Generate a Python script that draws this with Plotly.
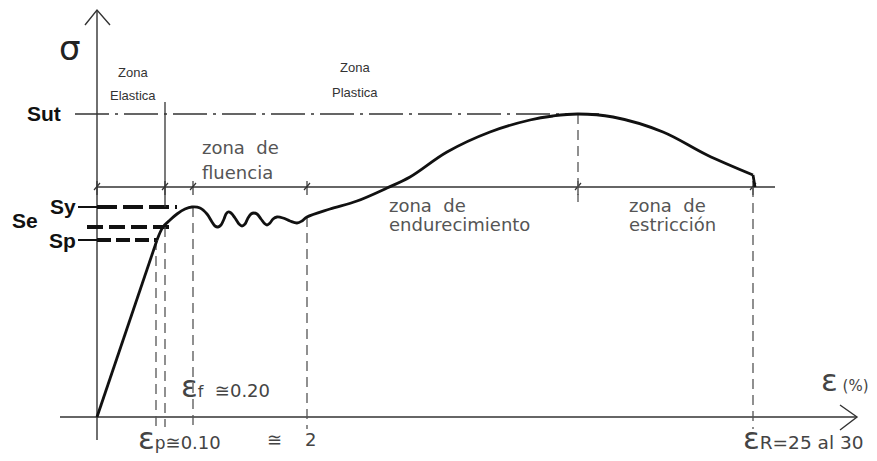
import plotly.graph_objects as go

# ---------------- data (schematic strain / stress units) ----------------
# elastic branch
elastic_strain = [0, 60]
elastic_stress = [0, 177]

# plastic branch (yield plateau with oscillations, hardening, necking)
plastic_strain = [60, 66, 73, 80, 88, 95, 103, 110, 115, 118, 121, 124, 127, 129, 131,
                  134, 138, 142, 145, 148, 151, 154, 157, 160, 164, 167, 170, 173, 176,
                  180, 186, 193, 200, 205, 210, 233, 260, 290, 313, 350, 393, 433, 456,
                  481, 516, 566, 610, 656]
plastic_stress = [177, 190, 197, 203, 208, 210, 209, 203, 195, 191, 190, 192, 198, 203, 205,
                  204, 199, 193, 191, 193, 199, 203, 204, 203, 198, 194, 192, 194, 198,
                  200, 199, 196, 194, 196, 200, 208, 216, 229, 240, 265, 285, 297, 301,
                  303, 300, 285, 262, 242]
# final rupture drop
rupture_strain = [656, 658]
rupture_stress = [242, 230]

# reference stress levels
S_ut = 303
S_y = 210
S_e = 190
S_p = 177
zone_level = 230

# characteristic strains
eps_p = 59
eps_e = 68
eps_f = 96
eps_2 = 210
eps_u = 481
eps_R = 656
zone_bounds = [0, eps_e, eps_f, eps_2, eps_u, eps_R]

# axis extents
x_axis_min, x_axis_max = -37, 760
y_axis_min, y_axis_max = -23, 407

BLACK = "#111111"
GRAY = "#555555"
TECH = "DejaVu Sans"

fig = go.Figure()


def seg(xs, ys, width=1.5, color=BLACK, dash="solid", shape="linear"):
    fig.add_trace(go.Scatter(x=xs, y=ys, mode="lines",
                             line=dict(color=color, width=width, dash=dash, shape=shape),
                             hoverinfo="skip", showlegend=False))


# axes with arrows
seg([x_axis_min, x_axis_max], [0, 0], 1.6, "#333333")
seg([x_axis_max - 17, x_axis_max, x_axis_max - 17], [12, 0, -13], 1.4, "#333333")
seg([0, 0], [y_axis_min, y_axis_max], 1.4, "#333333")
seg([-12, 0, 13], [y_axis_max - 15, y_axis_max, y_axis_max - 15], 1.4, "#333333")

# zone line with ticks
seg([0, 678], [zone_level, zone_level], 1.4, "#333333")
for zb in zone_bounds:
    seg([zb, zb], [zone_level - 8, zone_level + 6], 1.2, "#333333")
    seg([zb - 3, zb + 3], [zone_level - 3, zone_level + 4], 1.2, "#333333")

# Sut dash-dot
seg([-22, 503], [S_ut, S_ut], 1.3, "#333333", "34px,6px,3px,6px")

# Sy, Se, Sp dashed references
seg([-19, 0], [S_y, S_y], 2, BLACK)
seg([0, 80], [S_y, S_y], 4, BLACK, "20px,6px")
seg([-10, 78], [S_e, S_e], 4, BLACK, "16px,6px")
seg([-19, 0], [S_p, S_p], 2, BLACK)
seg([0, 60], [S_p, S_p], 4, BLACK, "14px,5px")

# vertical markers
seg([eps_e, eps_e], [S_y, 315], 1.3, "#333333")
seg([eps_p, eps_p], [S_p, -10], 1.3, "#555555", "10px,6px")
seg([eps_e, eps_e], [S_e, -10], 1.3, "#555555", "10px,6px")
seg([eps_f, eps_f], [S_y, -10], 1.3, "#555555", "10px,6px")
seg([eps_2, eps_2], [200, -12], 1.3, "#555555", "10px,6px")
seg([eps_u, eps_u], [S_ut, 215], 1.3, "#555555", "10px,6px")
seg([eps_R, eps_R], [zone_level, -12], 1.3, "#555555", "10px,6px")

# stress-strain curve
seg(elastic_strain, elastic_stress, 2.8, BLACK)
seg(plastic_strain, plastic_stress, 2.8, BLACK, shape="spline")
seg(rupture_strain, rupture_stress, 2.8, BLACK)

ann = []


def txt(x, y, t, size=17, color=GRAY, xanchor="left", family=TECH):
    ann.append(dict(x=x, y=y, xref="x", yref="y", text=t, showarrow=False,
                    xanchor=xanchor, yanchor="middle",
                    font=dict(size=size, color=color, family=family)))


txt(-27, 369, "σ", 34, "#222222", "center", "DejaVu Sans")
txt(-34, 304, "<b>Sut</b>", 21, BLACK, "right", "Liberation Sans")
txt(-19, 211, "<b>Sy</b>", 21, BLACK, "right", "Liberation Sans")
txt(-72, 197, "<b>Se</b>", 21, BLACK, "center", "Liberation Sans")
txt(-19, 177, "<b>Sp</b>", 21, BLACK, "right", "Liberation Sans")

txt(36, 345, "Zona", 13, "#333333", "center", "Liberation Sans")
txt(36, 322, "Elastica", 13, "#333333", "center", "Liberation Sans")
txt(258, 350, "Zona", 13, "#333333", "center", "Liberation Sans")
txt(258, 325, "Plastica", 13, "#333333", "center", "Liberation Sans")

txt(103, 270, "zona  de", 18, GRAY)
txt(103, 245, "fluencia", 18, GRAY)
txt(290, 212, "zona  de", 18, GRAY)
txt(290, 193, "endurecimiento", 18, GRAY)
txt(530, 212, "zona  de", 18, GRAY)
txt(530, 193, "estricción", 18, GRAY)

eps_big = '<span style="font-size:31px">ε</span>'
txt(82, 31, eps_big + '<span style="font-size:16px">f</span>  ≅0.20', 18, "#444444")
txt(39, -21, eps_big + '<span style="font-size:17px">p</span>≅0.10', 18, "#444444")
txt(168, -22, "≅    2", 18, "#444444")
txt(644, -21, eps_big + 'R=25 al 30', 18.5, "#444444")
txt(722, 37, eps_big + '<span style="font-size:15px"> (%)</span>', 15, "#444444")

# the page body has an 8 px margin: figure is sized to fit the window exactly
fig.update_layout(
    width=869, height=453,
    margin=dict(l=0, r=0, t=0, b=0),
    paper_bgcolor="white", plot_bgcolor="white",
    xaxis=dict(range=[-89, 780], visible=False, fixedrange=True),
    yaxis=dict(range=[-44, 409], visible=False, fixedrange=True),
    annotations=ann,
    showlegend=False,
)

fig.write_html("out.html")
